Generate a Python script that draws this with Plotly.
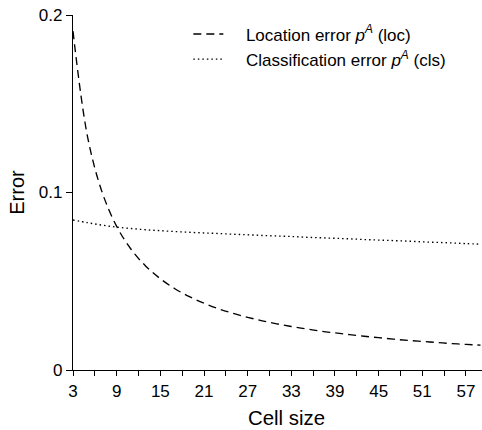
import plotly.graph_objects as go

cell_size = [3, 5, 7, 9, 11, 13, 15, 17, 19, 21, 23, 25, 27, 29, 31, 33, 35, 37, 39,
             41, 43, 45, 47, 49, 51, 53, 55, 57, 59]
loc_error = [0.1909, 0.1314, 0.1002, 0.0809, 0.0679, 0.0585, 0.0514, 0.0458, 0.0413,
             0.0376, 0.0345, 0.0319, 0.0297, 0.0277, 0.0260, 0.0245, 0.0232, 0.0219,
             0.0209, 0.0199, 0.0190, 0.0182, 0.0174, 0.0167, 0.0161, 0.0155, 0.0149,
             0.0144, 0.0140]
cls_error = [0.0845, 0.0830, 0.0816, 0.0805, 0.0797, 0.0790, 0.0785, 0.0780, 0.0776,
             0.0772, 0.0769, 0.0765, 0.0762, 0.0758, 0.0755, 0.0752, 0.0748, 0.0745,
             0.0742, 0.0739, 0.0735, 0.0732, 0.0729, 0.0726, 0.0722, 0.0719, 0.0716,
             0.0712, 0.0709]
x_ticks = [3, 9, 15, 21, 27, 33, 39, 45, 51, 57]
y_ticks = [0, 0.1, 0.2]
y_tick_text = ["0", "0.1", "0.2"]

FONT = "Liberation Sans, Arial, sans-serif"
PAD = "\u00a0" * 3 + "\u2009"

fig = go.Figure()
fig.add_trace(go.Scatter(
    x=cell_size, y=loc_error, mode="lines", line_shape="spline",
    name=PAD + "Location error <i>p<sup>A</sup></i> (loc)",
    line=dict(color="black", width=1.35, dash="8px,5px")))
fig.add_trace(go.Scatter(
    x=cell_size, y=cls_error, mode="lines", line_shape="spline",
    name=PAD + "Classification error <i>p<sup>A</sup></i> (cls)",
    line=dict(color="black", width=1.35, dash="1.5px,3px")))

fig.update_layout(
    width=482, height=430,
    margin=dict(l=73, r=0, t=15, b=60, autoexpand=False),
    paper_bgcolor="white", plot_bgcolor="white",
    font=dict(family=FONT, size=17, color="black"),
    showlegend=True,
    legend=dict(x=0.282, y=0.996, xanchor="left", yanchor="top",
                bgcolor="rgba(0,0,0,0)", font=dict(size=17),
                tracegroupgap=0, itemwidth=30),
    xaxis=dict(range=[3, 59.2], tickvals=x_ticks, ticks="outside", ticklen=5,
               tickwidth=1, tickcolor="black", showline=True, linecolor="black",
               linewidth=1.2, showgrid=False, zeroline=False, automargin=False,
               minor=dict(ticks="outside", ticklen=5, tickcolor="black",
                          tickvals=[6, 12, 18, 24, 30, 36, 42, 48, 54], showgrid=False)),
    yaxis=dict(range=[0, 0.2], tickvals=y_ticks, ticktext=y_tick_text,
               ticks="outside", ticklen=6, tickwidth=1, tickcolor="black",
               showline=True, linecolor="black", linewidth=1.2, showgrid=False,
               zeroline=False, automargin=False, title=dict(text="Error", standoff=8)),
    annotations=[dict(text="Cell size", xref="paper", yref="paper", x=0.523, y=-0.135,
                      xanchor="center", yanchor="middle", showarrow=False,
                      font=dict(family=FONT, size=20.4, color="black"))],
)

fig.write_html("out.html", config={"displayModeBar": False},
               post_script="document.body.style.margin='0';document.body.style.overflow='hidden';")
